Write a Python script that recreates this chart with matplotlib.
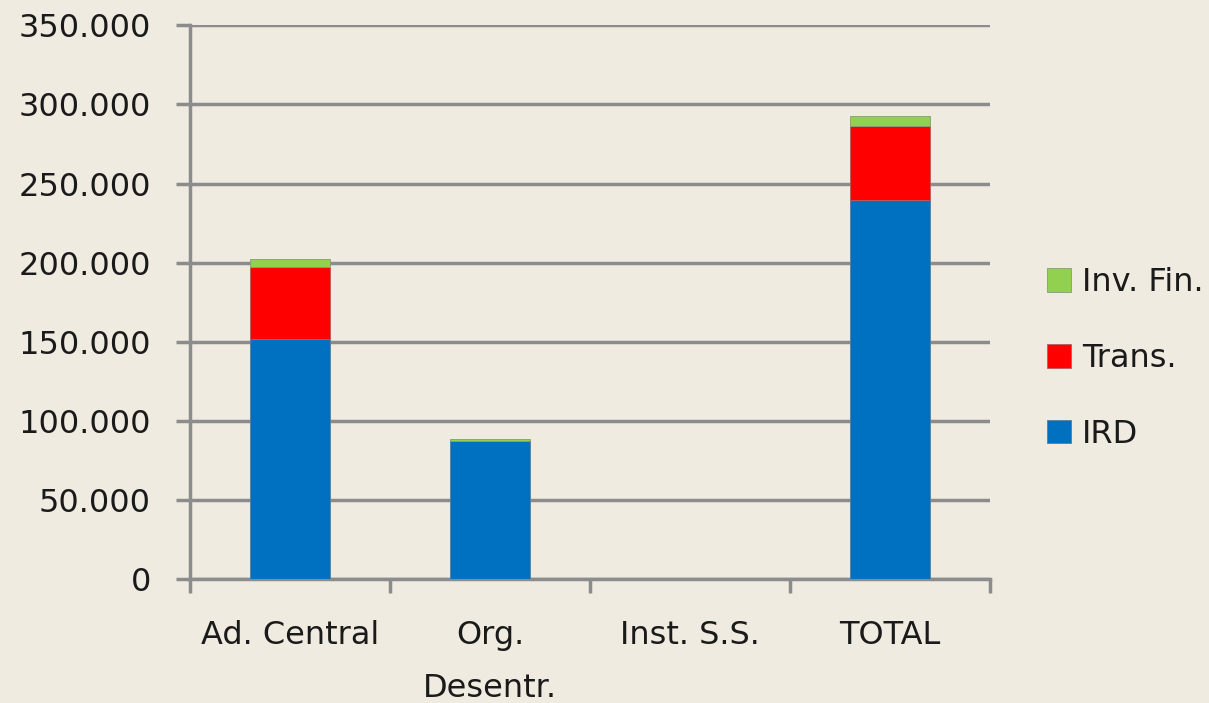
import numpy as np
import matplotlib.pyplot as plt
from matplotlib.ticker import FuncFormatter

categories = ['Ad. Central', 'Org.\nDesentr.', 'Inst. S.S.', 'TOTAL']
ird = [152000, 87500, 0, 239500]
trans = [45500, 0, 0, 47000]
inv_fin = [5000, 1000, 0, 6000]

bg = '#EFEBE1'
grid_c = '#8C8C8C'
txt_c = '#1A1A1A'
plt.rcParams['font.family'] = ['DejaVu Sans']

fig = plt.figure(figsize=(12.09, 7.03), dpi=100, facecolor=bg)
ax = fig.add_axes([0.157, 0.176, 0.662, 0.788], facecolor=bg)

x = np.arange(len(categories)) + 0.5
w = 0.4
ird = np.array(ird)
trans = np.array(trans)
inv_fin = np.array(inv_fin)
b1 = ax.bar(x, ird, w, color='#0070C0', edgecolor='#5a7f9a', linewidth=0.6, label='IRD', zorder=3)
b2 = ax.bar(x, trans, w, bottom=ird, color='#FF0000', edgecolor='#b06060', linewidth=0.6, label='Trans.', zorder=3)
b3 = ax.bar(x, inv_fin, w, bottom=ird + trans, color='#92D050', edgecolor='#8a9a7a', linewidth=0.6, label='Inv. Fin.', zorder=3)

ax.set_xlim(0, 4)
ax.set_ylim(0, 350000)
ax.set_yticks(np.arange(0, 350001, 50000))
ax.yaxis.set_major_formatter(FuncFormatter(lambda v, p: f'{int(v):,}'.replace(',', '.')))
ax.grid(axis='y', color=grid_c, linewidth=2.5, zorder=0)
ax.set_xticks(np.arange(0, 5))
ax.set_xticklabels([])
ax.set_xticks(x, minor=True)
ax.set_xticklabels(categories, minor=True, fontsize=23, linespacing=1.95, va='top', color=txt_c)
ax.tick_params(axis='x', which='minor', length=0, pad=29)
ax.tick_params(axis='x', which='major', length=10, width=2.5, color=grid_c)
ax.tick_params(axis='y', length=10, width=2.5, color=grid_c, labelsize=23, pad=18, labelcolor=txt_c)
for s in ['top', 'right']:
    ax.spines[s].set_visible(False)
for s in ['left', 'bottom']:
    ax.spines[s].set_color(grid_c)
    ax.spines[s].set_linewidth(2.5)

leg = fig.legend(handles=[b3, b2, b1], labels=['Inv. Fin.', 'Trans.', 'IRD'],
                 loc='center left', bbox_to_anchor=(0.866, 0.49), frameon=False,
                 fontsize=23, handlelength=0.75, handleheight=0.75, handletextpad=0.35,
                 labelspacing=1.4, borderaxespad=0, borderpad=0)
for t in leg.get_texts():
    t.set_color(txt_c)

fig.savefig('out.png', dpi=100, facecolor=bg)
